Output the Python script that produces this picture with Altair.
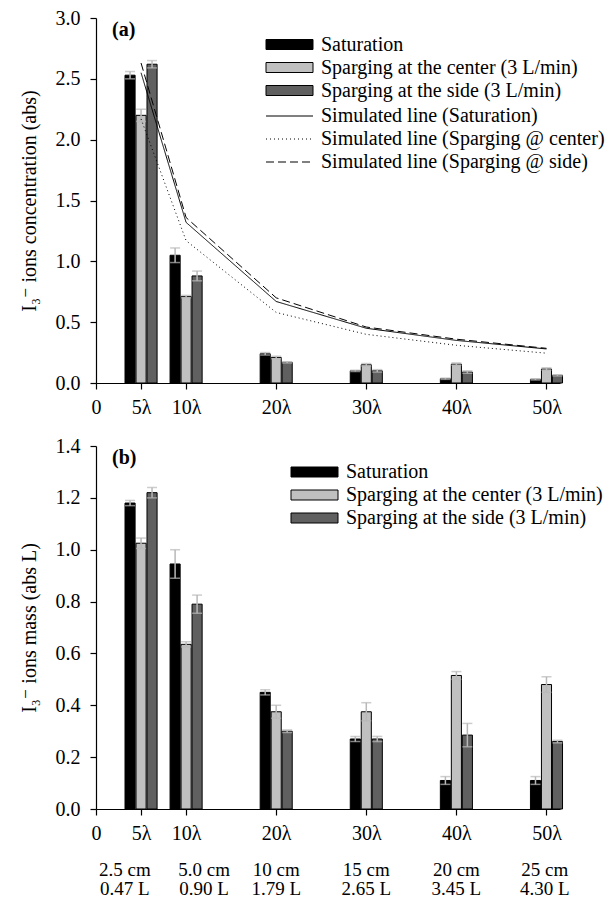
import altair as alt
import pandas as pd

# ---------------- data ----------------
positions = [5, 10, 20, 30, 40, 50]
series = ["Saturation", "Sparging at the center (3 L/min)", "Sparging at the side (3 L/min)"]

conc_sat = [2.53, 1.05, 0.24, 0.10, 0.035, 0.03]
conc_sat_err = [0.03, 0.06, 0.01, 0.005, 0.005, 0.005]
conc_center = [2.20, 0.71, 0.21, 0.15, 0.155, 0.115]
conc_center_err = [0.05, 0.01, 0.01, 0.01, 0.01, 0.01]
conc_side = [2.62, 0.88, 0.17, 0.10, 0.09, 0.063]
conc_side_err = [0.03, 0.04, 0.005, 0.01, 0.01, 0.005]

sim_names = ["Simulated line (Saturation)", "Simulated line (Sparging @ center)",
             "Simulated line (Sparging @ side)"]
sim_x = [5, 10, 20, 30, 40, 50]
sim_sat = [2.55, 1.32, 0.67, 0.45, 0.35, 0.28]
sim_center = [2.17, 1.17, 0.58, 0.40, 0.31, 0.245]
sim_side = [2.63, 1.36, 0.70, 0.46, 0.36, 0.285]

mass_sat = [1.18, 0.945, 0.45, 0.27, 0.11, 0.11]
mass_sat_err = [0.01, 0.055, 0.01, 0.01, 0.015, 0.015]
mass_center = [1.025, 0.635, 0.375, 0.375, 0.515, 0.48]
mass_center_err = [0.02, 0.01, 0.025, 0.035, 0.015, 0.03]
mass_side = [1.22, 0.79, 0.30, 0.27, 0.285, 0.26]
mass_side_err = [0.02, 0.035, 0.005, 0.01, 0.045, 0.005]

tick_values = [0, 5, 10, 20, 30, 40, 50]
dist_label_pos = [3.2, 12.0, 20, 30, 40, 49.8]
dist_cm = ["2.5 cm", "5.0 cm", "10 cm", "15 cm", "20 cm", "25 cm"]
dist_vol = ["0.47 L", "0.90 L", "1.79 L", "2.65 L", "3.45 L", "4.30 L"]

# ---------------- tables ----------------
def bar_table(vals, errs):
    rows = []
    for i, s in enumerate(series):
        for p, v, e in zip(positions, vals[i], errs[i]):
            rows.append({"pos": p, "series": s, "idx": i, "value": v, "err": e})
    return pd.DataFrame(rows)

df_a = bar_table([conc_sat, conc_center, conc_side], [conc_sat_err, conc_center_err, conc_side_err])
df_b = bar_table([mass_sat, mass_center, mass_side], [mass_sat_err, mass_center_err, mass_side_err])
df_lines = pd.DataFrame(
    [{"x": x, "value": v, "sim": n}
     for n, vals in zip(sim_names, [sim_sat, sim_center, sim_side])
     for x, v in zip(sim_x, vals)]
)
df_dist = pd.DataFrame({"x": dist_label_pos, "cm": dist_cm, "vol": dist_vol})

# ---------------- style ----------------
FONT = "Liberation Serif, Times New Roman, DejaVu Serif, serif"
W = 464
H1 = 365
H2 = 363
STEP = 1.22
HALF = 0.56
BAR_COLORS = ["#000000", "#c0c0c0", "#606060"]
ERR_COLOR = "#b8b8b8"
# symbol size 100 -> unit = 5 px; rect 47 x 10 px starting at the legend's left edge
RECT_PATH = "M-1,-1H8.4V1H-1Z"
LINE_PATH = "M-1,0H8.4"

xscale = alt.Scale(domain=[0, 51.5], nice=False, zero=False)
xaxis = alt.Axis(values=tick_values, labelExpr="datum.value == 0 ? '0' : datum.value + 'λ'",
                 title=None, grid=False, tickSize=6, labelPadding=8, labelFlush=False)


def make_legend(x, y, sym, rowpad):
    return alt.Legend(orient="none", legendX=x, legendY=y, title=None,
                      symbolType=sym, symbolSize=100,
                      symbolStrokeColor="black", symbolStrokeWidth=1,
                      labelFont=FONT, labelFontSize=20, labelOffset=40, labelLimit=0,
                      rowPadding=rowpad, padding=0)


def panel(df, ymax, ystep, ytitle, legend_x, legend_y, rowpad, tag):
    yvals = [round(i * ystep, 2) for i in range(int(round(ymax / ystep)) + 1)]
    yscale = alt.Scale(domain=[0, ymax], nice=False)
    yaxis = alt.Axis(values=yvals, format=".1f", title=ytitle, grid=False, tickSize=6,
                     labelPadding=10, titlePadding=16)
    base = alt.Chart(df).transform_calculate(
        xc=f"datum.pos + (datum.idx - 1) * {STEP}",
        x0=f"datum.pos + (datum.idx - 1) * {STEP} - {HALF}",
        x1=f"datum.pos + (datum.idx - 1) * {STEP} + {HALF}",
        lo="datum.value - datum.err",
        hi="datum.value + datum.err",
    )
    bars = base.mark_bar(stroke="black", strokeWidth=1).encode(
        x=alt.X("x0:Q", scale=xscale, axis=xaxis),
        x2="x1:Q",
        y=alt.Y("value:Q", scale=yscale, axis=yaxis),
        y2=alt.datum(0),
        fill=alt.Fill("series:N", scale=alt.Scale(domain=series, range=BAR_COLORS),
                      legend=make_legend(legend_x, legend_y, RECT_PATH, rowpad)),
    )
    err = base.mark_rule(color=ERR_COLOR, strokeWidth=1.5).encode(
        x=alt.X("xc:Q", scale=xscale), y=alt.Y("lo:Q", scale=yscale), y2="hi:Q")
    cap_hi = base.mark_tick(color=ERR_COLOR, orient="horizontal", size=10, thickness=1.5).encode(
        x=alt.X("xc:Q", scale=xscale), y=alt.Y("hi:Q", scale=yscale))
    cap_lo = base.mark_tick(color=ERR_COLOR, orient="horizontal", size=10, thickness=1.5).encode(
        x=alt.X("xc:Q", scale=xscale), y=alt.Y("lo:Q", scale=yscale))
    label = alt.Chart(pd.DataFrame({"t": [tag]})).mark_text(
        font=FONT, fontSize=20, fontWeight="bold", align="left", baseline="middle"
    ).encode(text="t:N", x=alt.value(16), y=alt.value(12))
    return [bars, err, cap_hi, cap_lo, label], yscale


layers_a, ys_a = panel(df_a, 3.0, 0.5, "I₃⁻ ions concentration (abs)", 165, 16.5, 3, "(a)")
lines = alt.Chart(df_lines).mark_line(color="black", strokeWidth=1).encode(
    x=alt.X("x:Q", scale=xscale),
    y=alt.Y("value:Q", scale=ys_a),
    strokeDash=alt.StrokeDash("sim:N", scale=alt.Scale(domain=sim_names, range=[[1, 0], [1, 3], [8, 4]]),
                              legend=make_legend(165, 88, LINE_PATH, 3)),
)
chart_a = alt.layer(*layers_a, lines).properties(width=W, height=H1)

layers_b, ys_b = panel(df_b, 1.4, 0.2, "I₃⁻ ions mass (abs L)", 190, 16, 3, "(b)")
cm_text = alt.Chart(df_dist).mark_text(font=FONT, fontSize=19, baseline="middle").encode(
    x=alt.X("x:Q", scale=xscale), y=alt.value(H2 + 61), text="cm:N")
vol_text = alt.Chart(df_dist).mark_text(font=FONT, fontSize=19, baseline="middle").encode(
    x=alt.X("x:Q", scale=xscale), y=alt.value(H2 + 80), text="vol:N")
chart_b = alt.layer(*layers_b, cm_text, vol_text).properties(width=W, height=H2)

chart = alt.vconcat(chart_a, chart_b, spacing=19).resolve_scale(
    fill="independent"
).resolve_legend(
    fill="independent"
).properties(
    padding={"left": 11, "top": 0, "right": 0, "bottom": 0}
).configure_axis(
    labelFont=FONT, titleFont=FONT, labelFontSize=20, titleFontSize=20,
    titleFontWeight="normal", labelColor="black", titleColor="black",
    domainColor="black", tickColor="black", domainWidth=1.2, tickWidth=1.2,
).configure_legend(
    labelFont=FONT, labelColor="black"
).configure_text(font=FONT).configure_view(stroke=None)

chart.save("out.html", embed_options={"renderer": "svg", "actions": False})
